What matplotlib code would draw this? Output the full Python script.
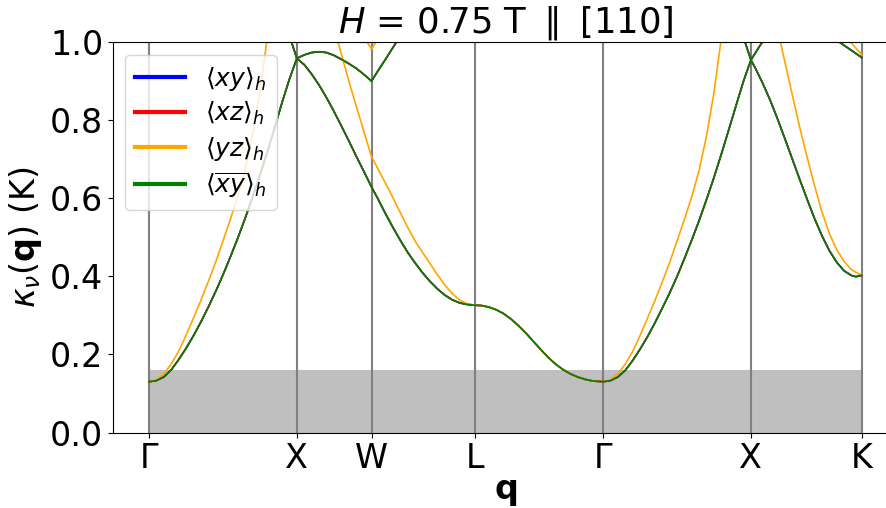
import matplotlib.pyplot as plt
import numpy as np

# high symmetry points along the path
q_ticks = [0, 1.0, 1.505, 2.207, 3.07, 4.07, 4.82]
q_labels = ["Γ", "X", "W", "L", "Γ", "X", "K"]

# green bands (xy, xz and xybar domains give the same spectrum)
# lower band Γ-X, then the arch X-W and up again
g1_q = [0, 0.05, 0.1, 0.15, 0.2, 0.25, 0.3, 0.35, 0.4, 0.45, 0.5, 0.55, 0.6, 0.65, 0.7,
        0.75, 0.8, 0.85, 0.9, 0.95, 1.0,
        1.05, 1.1, 1.15, 1.2, 1.25, 1.3, 1.35, 1.4, 1.45, 1.505, 1.55, 1.6, 1.65, 1.7, 1.75]
g1_k = [0.130, 0.133, 0.142, 0.160, 0.186, 0.215, 0.247, 0.282, 0.320, 0.360, 0.403, 0.449,
        0.497, 0.548, 0.602, 0.658, 0.718, 0.780, 0.845, 0.905, 0.958,
        0.967, 0.973, 0.975, 0.973, 0.966, 0.956, 0.945, 0.933, 0.918, 0.900, 0.927, 0.956,
        0.986, 1.015, 1.045]

# band coming down into X, X-W-L-Γ, then Γ-X again
g2_q = [0.93, 0.964, 1.0, 1.05, 1.1, 1.15, 1.2, 1.25, 1.3, 1.35, 1.4, 1.45, 1.505, 1.55,
        1.6, 1.65, 1.7, 1.75, 1.8, 1.85, 1.9, 1.95, 2.0, 2.05, 2.1, 2.15, 2.207,
        2.25, 2.3, 2.35, 2.4, 2.45, 2.5, 2.55, 2.6, 2.65, 2.7, 2.75, 2.8, 2.85, 2.9, 2.95,
        3.0, 3.07, 3.12, 3.17, 3.22, 3.27, 3.32, 3.37, 3.42, 3.47, 3.52, 3.57, 3.62, 3.67,
        3.72, 3.77, 3.82, 3.87, 3.92, 3.97, 4.02, 4.07, 4.11, 4.15]
g2_k = [1.04, 1.0, 0.958, 0.942, 0.918, 0.890, 0.858, 0.823, 0.786, 0.748, 0.709, 0.671,
        0.629, 0.597, 0.560, 0.525, 0.492, 0.461, 0.434, 0.409, 0.387, 0.368, 0.352, 0.340,
        0.332, 0.328, 0.326,
        0.325, 0.321, 0.314, 0.304, 0.290, 0.273, 0.254, 0.233, 0.212, 0.192, 0.175, 0.161,
        0.150, 0.142, 0.136, 0.132, 0.130, 0.133, 0.142, 0.159, 0.184, 0.213, 0.245, 0.280,
        0.318, 0.357, 0.399, 0.445, 0.493, 0.543, 0.597, 0.653, 0.713, 0.775, 0.838, 0.900,
        0.954, 0.978, 1.002]

# band coming down into X, X-K
g3_q = [3.99, 4.03, 4.07, 4.1, 4.15, 4.2, 4.25, 4.3, 4.35, 4.4, 4.45, 4.5, 4.55, 4.6,
        4.65, 4.7, 4.75, 4.78, 4.82]
g3_k = [1.046, 1.0, 0.954, 0.933, 0.894, 0.851, 0.803, 0.752, 0.700, 0.648, 0.597, 0.548,
        0.504, 0.466, 0.436, 0.414, 0.402, 0.399, 0.403]

g4_q = [4.55, 4.671, 4.82]
g4_k = [1.03, 0.999, 0.960]

# orange bands (yz domain)
o1_q = [0, 0.05, 0.1, 0.15, 0.2, 0.25, 0.3, 0.35, 0.4, 0.45, 0.5, 0.55, 0.6, 0.65, 0.7,
        0.75, 0.8, 0.85]
o1_k = [0.130, 0.135, 0.150, 0.175, 0.207, 0.248, 0.292, 0.337, 0.385, 0.435, 0.490, 0.545,
        0.604, 0.672, 0.760, 0.870, 1.01, 1.17]

o2_q = [1.22, 1.25, 1.3, 1.35, 1.4, 1.45, 1.505, 1.55, 1.6, 1.65, 1.7, 1.75, 1.8, 1.85,
        1.9, 1.95, 2.0, 2.05, 2.1, 2.15, 2.207,
        2.25, 2.3, 2.35, 2.4, 2.45, 2.5, 2.55, 2.6, 2.65, 2.7, 2.75, 2.8, 2.85, 2.9, 2.95,
        3.0, 3.07, 3.12, 3.17, 3.22, 3.27, 3.32, 3.37, 3.42, 3.47, 3.52, 3.57, 3.62, 3.67,
        3.72, 3.77, 3.82, 3.87, 3.92]
o2_k = [1.076, 1.036, 0.971, 0.902, 0.838, 0.775, 0.706, 0.674, 0.638, 0.601, 0.563, 0.525,
        0.490, 0.461, 0.433, 0.404, 0.378, 0.356, 0.339, 0.330, 0.326,
        0.325, 0.321, 0.314, 0.304, 0.290, 0.273, 0.254, 0.233, 0.212, 0.192, 0.175, 0.161,
        0.150, 0.142, 0.136, 0.132, 0.130, 0.135, 0.150, 0.175, 0.207, 0.248, 0.292, 0.337,
        0.385, 0.435, 0.490, 0.545, 0.604, 0.672, 0.760, 0.870, 1.01, 1.17]

o3_q = [1.43, 1.505, 1.58]
o3_k = [1.027, 0.982, 1.027]

o4_q = [4.24, 4.27, 4.3, 4.35, 4.4, 4.45, 4.5, 4.55, 4.6, 4.65, 4.7, 4.75, 4.8, 4.82]
o4_k = [1.05, 0.999, 0.948, 0.864, 0.781, 0.705, 0.632, 0.565, 0.510, 0.468, 0.438, 0.417,
        0.406, 0.405]

o5_q = [4.6, 4.746, 4.82]
o5_k = [1.06, 0.999, 0.967]

gap = 0.16

green_bands = [(g1_q, g1_k), (g2_q, g2_k), (g3_q, g3_k), (g4_q, g4_k)]
orange_bands = [(o1_q, o1_k), (o2_q, o2_k), (o3_q, o3_k), (o4_q, o4_k), (o5_q, o5_k)]

domains = [(r"$\langle xy\rangle_h$", "blue", green_bands),
           (r"$\langle xz\rangle_h$", "red", green_bands),
           (r"$\langle yz\rangle_h$", "orange", orange_bands),
           (r"$\langle\overline{xy}\rangle_h$", "green", green_bands)]

fig = plt.figure(figsize=(8.86, 5.08), dpi=100)
ax = fig.add_axes([0.1275, 0.1486, 0.887, 0.7687])

ax.fill_between([q_ticks[0], q_ticks[-1]], 0, gap, color="gray", alpha=0.5, lw=0, zorder=1)
for q in q_ticks:
    ax.axvline(q, color="gray", lw=1.5, zorder=1.5)

for name, col, bands in domains:
    for i, (q, k) in enumerate(bands):
        ax.plot(q, k, color=col, lw=1.2, label=name if i == 0 else None, zorder=2)

ax.set_xlim(-0.243, 5.07)
ax.set_ylim(0, 1.0)
ax.set_xticks(q_ticks)
ax.set_xticklabels(q_labels)
ax.set_yticks(np.arange(0, 1.01, 0.2))
ax.tick_params(labelsize=24)
ax.set_xlabel(r"$\mathbf{q}$", fontsize=24, labelpad=0)
ax.set_ylabel(r"$\kappa_\nu(\mathbf{q})$ (K)", fontsize=24)
ax.set_title(r"$H$ = 0.75 T $\parallel$ [110]", fontsize=25.5)

leg = ax.legend(loc="upper left", fontsize=18, labelspacing=0.3)
for line in leg.get_lines():
    line.set_linewidth(3)

fig.savefig("out.png", dpi=100)
